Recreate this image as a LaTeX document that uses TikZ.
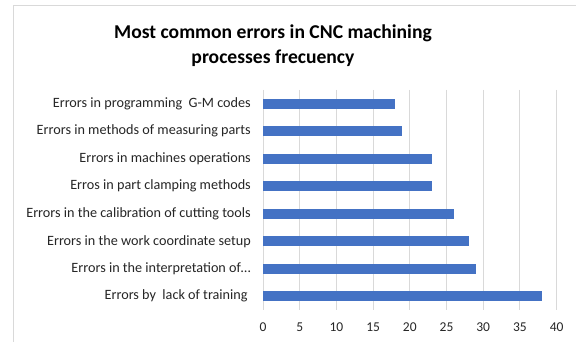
\documentclass[tikz,border=0pt]{standalone}
\usepackage{fontspec}
\setmainfont{Carlito}
\definecolor{barblue}{HTML}{4472C4}
\definecolor{gridgrey}{HTML}{D9D9D9}
\definecolor{txt}{HTML}{262626}
\begin{document}
\begin{tikzpicture}[x=1pt,y=-1pt,
  gridline/.style={draw=gridgrey,line width=0.9pt},
  bar/.style={fill=barblue,draw=none},
  catlabel/.style={anchor=east,inner sep=0pt,font=\fontsize{14.2}{16}\selectfont,text=txt},
  ticklabel/.style={anchor=center,inner sep=0pt,font=\fontsize{13.5}{15}\selectfont,text=txt},
  titlestyle/.style={anchor=center,inner sep=0pt,align=center,font=\fontsize{19.6}{25}\selectfont\bfseries,text=black}]
\useasboundingbox (0,0) rectangle (576,342);
\fill[white] (0,0) rectangle (576,342);
% frame
\coordinate (f1) at (13,342);
\coordinate (f2) at (13,5);
\coordinate (f3) at (576,5);
\draw[gridline] (f1) -- (f2) -- (f3);
% title
\node[titlestyle] (title) at (273,46) {Most common errors in CNC machining\\processes frecuency};
% grid
\foreach \v [count=\i] in {0,5,...,40}{
  \coordinate (gt\i) at ({263+7.34*\v},90);
  \coordinate (gb\i) at ({263+7.34*\v},310);
  \draw[gridline] (gt\i) -- (gb\i);
  \node[ticklabel] (tick\i) at ({263+7.34*\v},327.5) {\v};
}
% bars
\foreach \val/\lab [count=\k] in {18/{Errors in programming\ \ G-M codes},
  19/{Errors in methods of measuring parts\ },
  23/{Errors in machines operations},
  23/{Erros in part clamping methods},
  26/{Errors in the calibration of cutting tools},
  28/{Errors in the work coordinate setup},
  29/{Errors in the interpretation of\ldots},
  38/{Errors by\ \ lack of training\ \ }}{
  \path[bar] (263,{103.75+27.5*(\k-1)-5}) rectangle ({263+7.34*\val},{103.75+27.5*(\k-1)+5});
  \node[catlabel] (cat\k) at (251,{103.75+27.5*(\k-1)}) {\lab};
}
\end{tikzpicture}
\end{document}
